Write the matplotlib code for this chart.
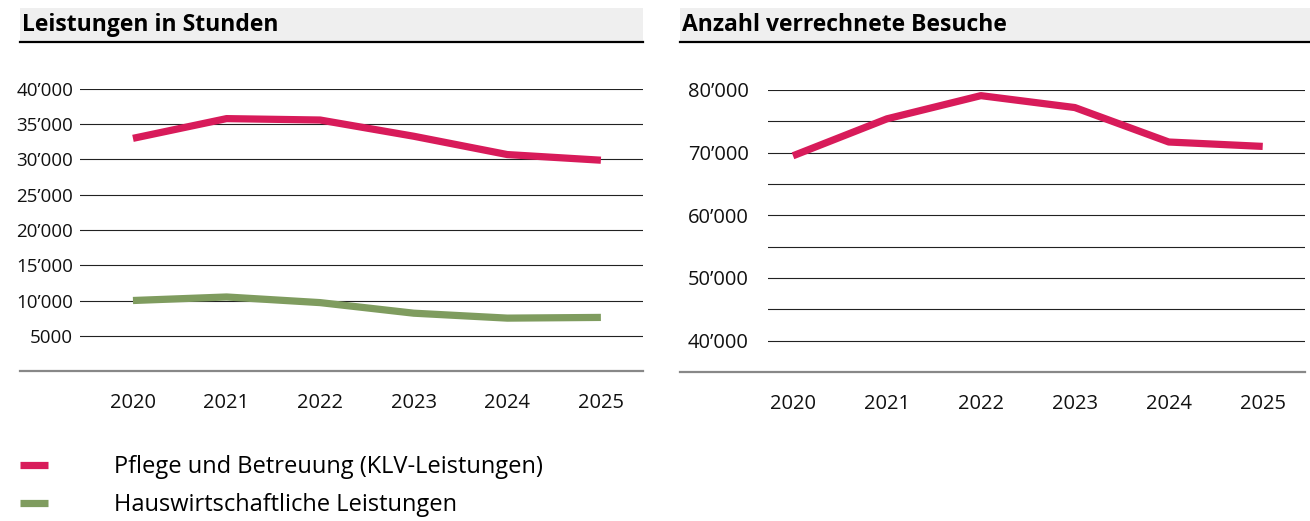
import matplotlib.pyplot as plt
from matplotlib.lines import Line2D
from matplotlib.patches import Rectangle

plt.rcParams['font.family'] = ['Open Sans', 'DejaVu Sans']

years = ['2020', '2021', '2022', '2023', '2024', '2025']
pflege_stunden = [33000, 35800, 35600, 33300, 30700, 29900]
hauswirt_stunden = [10000, 10500, 9700, 8200, 7500, 7600]
besuche = [69500, 75400, 79100, 77200, 71700, 71000]

left_yticks = [5000, 10000, 15000, 20000, 25000, 30000, 35000, 40000]
left_ylabels = ['5000', '10’000', '15’000', '20’000', '25’000', '30’000', '35’000', '40’000']
right_yticks = [40000, 50000, 60000, 70000, 80000]
right_ylabels = ['40’000', '50’000', '60’000', '70’000', '80’000']
right_minor = [45000, 55000, 65000, 75000]

titles = ['Leistungen in Stunden', 'Anzahl verrechnete Besuche']
labels = ['Pflege und Betreuung (KLV-Leistungen)', 'Hauswirtschaftliche Leistungen']

red = '#d81b5a'
green = '#7f9c5f'
W, H = 1310, 521

fig = plt.figure(figsize=(W / 100, H / 100), dpi=100)

def fx(px):
    return px / W

def fy(py):
    return 1 - py / H

ax1 = fig.add_axes([fx(80), fy(371), fx(643 - 80), fy(89) - fy(371)])
ax2 = fig.add_axes([fx(768), fy(372), fx(1305 - 768), fy(90) - fy(372)])

x = list(range(len(years)))
l1, = ax1.plot(x, pflege_stunden, color=red, lw=5.2, solid_capstyle='butt')
l2, = ax1.plot(x, hauswirt_stunden, color=green, lw=5.2, solid_capstyle='butt')
ax2.plot(x, besuche, color=red, lw=5.2, solid_capstyle='butt')

ax1.set_ylim(0, 40000)
ax1.set_xlim(-0.566, 5.45)
ax1.set_yticks(left_yticks, left_ylabels)

ax2.set_ylim(35000, 80000)
ax2.set_xlim(-0.266, 5.45)
ax2.set_yticks(right_yticks, right_ylabels)
ax2.set_yticks(right_minor, minor=True)

for ax, pad, base, ysize in [(ax1, 5, 20, 13.5), (ax2, 14, 680, 14.5)]:
    ax.set_xticks(x, years)
    for s in ax.spines.values():
        s.set_visible(False)
    ax.tick_params(axis='both', length=0, colors='#111111')
    ax.tick_params(axis='x', pad=16, labelsize=14.5)
    ax.tick_params(axis='y', pad=pad, labelsize=ysize)
    ax.tick_params(axis='y', which='minor', length=0)
    ax.grid(axis='y', which='both', color='#222222', lw=0.8)
    ax.set_axisbelow(True)
    # bottom axis line, wider than the grid
    x0 = (base - ax.get_position().x0 * W) / (ax.get_position().width * W)
    ax.add_line(Line2D([x0, 1], [0, 0], transform=ax.transAxes, color='#888888',
                       lw=1.6, clip_on=False))

# title bands
for (xa, xb), t in zip([(20, 643), (680, 1310)], titles):
    fig.add_artist(Rectangle((fx(xa), fy(42)), fx(xb - xa), fy(8) - fy(42),
                             transform=fig.transFigure, color='#efefef', lw=0))
    fig.add_artist(Line2D([fx(xa), fx(xb)], [fy(42), fy(42)], color='black', lw=1.6))
    fig.text(fx(xa + 2), fy(25), t, fontsize=16.5, fontweight='bold', va='center', ha='left')

fig.legend([l1, l2], labels, loc='upper left', bbox_to_anchor=(fx(20), fy(455)),
           frameon=False, fontsize=17, handlelength=1.2, handletextpad=2.8,
           labelspacing=0.6, borderpad=0, borderaxespad=0)

fig.savefig('out.png', dpi=100)
